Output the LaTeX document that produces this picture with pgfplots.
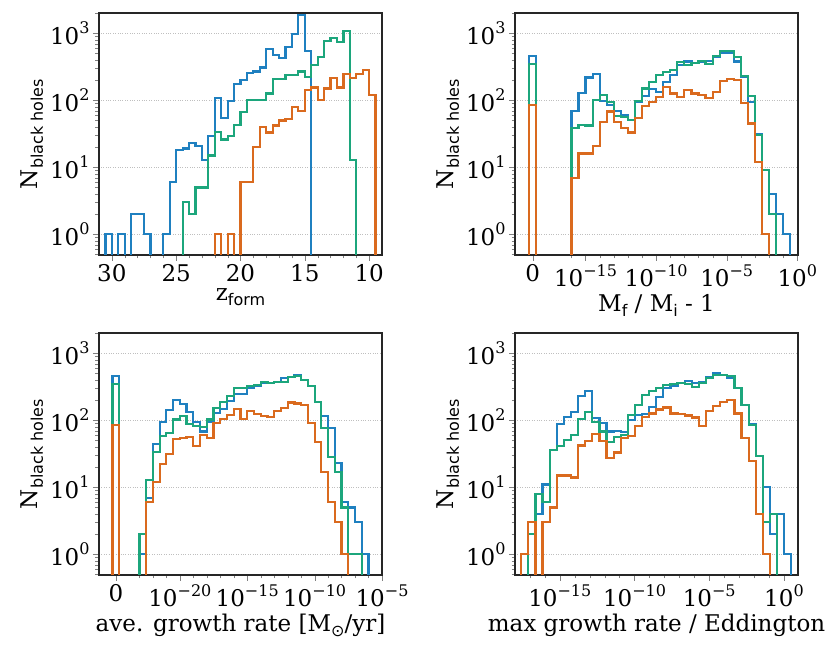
\documentclass[border=0pt]{standalone}
\usepackage{fontspec}
\setmainfont{DejaVu Serif}
\setsansfont{DejaVu Sans}
\usepackage{pgfplots}
\pgfplotsset{compat=1.18}

\definecolor{cblue}{HTML}{1F80C0}
\definecolor{cgreen}{HTML}{1CA67C}
\definecolor{corange}{HTML}{DA6A1E}

\newcommand{\sups}[1]{\raisebox{0.45em}{\fontsize{16}{16}\selectfont #1}}
\newcommand{\subs}[1]{\raisebox{-0.22em}{\fontsize{16}{16}\selectfont\sffamily #1}}

% options shared by all four panels (log y via semilogyaxis)
\pgfplotsset{
  scale only axis, width=283pt, height=242pt,
  ymin=0.49, ymax=2010,
  ytick={1,10,100,1000},
  yticklabels={10\sups{0},10\sups{1},10\sups{2},10\sups{3}},
  minor ytick={0.5,0.6,0.7,0.8,0.9,2,3,4,5,6,7,8,9,20,30,40,50,60,70,80,90,200,300,400,500,600,700,800,900,2000},
  ymajorgrids,
  major grid style={dotted, black!25, line width=0.7pt},
  axis line style={line width=1.1pt, black!85},
  major tick length=6pt, minor tick length=3.5pt,
  tick align=outside, tick pos=left,
  tick label style={font=\fontsize{23}{27}\selectfont},
  label style={font=\fontsize{23}{27}\selectfont},
  ylabel={N\subs{black holes}},
  every axis plot/.append style={const plot mark left, line width=2.2pt},
}

\begin{document}
\begin{tikzpicture}
\path[use as bounding box] (0,0) rectangle (830pt,653pt);

% formation redshift
\begin{semilogyaxis}[at={(99pt,398pt)}, anchor=south west, xmin=9, xmax=31, x dir=reverse,
  xtick={10,15,20,25,30}, xticklabels={10,15,20,25,30},
  minor xtick={11,12,13,14,16,17,18,19,21,22,23,24,26,27,28,29},
  xlabel={z\subs{form}}]
\addplot[cblue] coordinates {(30.5,0.001) (30.5,1) (30,0.001) (29.5,1) (29,0.001) (28.5,2) (28,2) (27.5,1) (27,0.001) (26.5,0.001) (26,1) (25.5,6) (25,18) (24.5,19) (24,23) (23.5,21) (23,13) (22.5,29) (22,109) (21.5,55) (21,97) (20.5,173) (20,200) (19.5,255) (19,268) (18.5,308) (18,585) (17.5,474) (17,424) (16.5,617) (16,977) (15.5,1880) (15,550) (14.5,0.001)};
\addplot[cgreen] coordinates {(24.5,0.001) (24.5,3) (24,2) (23.5,5) (23,5) (22.5,15) (22,34) (21.5,26) (21,29) (20.5,43) (20,66) (19.5,100) (19,100) (18.5,100) (18,126) (17.5,206) (17,206) (16.5,236) (16,236) (15.5,268) (15,220) (14.5,337) (14,437) (13.5,777) (13,842) (12.5,734) (12,1070) (11.5,13) (11,0.001)};
\addplot[corange] coordinates {(22,0.001) (22,1) (21.5,0.001) (21,1) (20.5,0.001) (20,6) (19.5,6) (19,20) (18.5,40) (18,33) (17.5,42) (17,50) (16.5,52) (16,79) (15.5,69) (15,142) (14.5,155) (14,100) (13.5,150) (13,213) (12.5,155) (12,246) (11.5,213) (11,244) (10.5,283) (10,120) (9.5,0.001)};
\end{semilogyaxis}

% fractional mass growth
\begin{semilogyaxis}[at={(515pt,398pt)}, anchor=south west, xmin=-20, xmax=0.05,
  xtick={-18.75,-15,-10,-5,0},
  xticklabels={0,10\sups{−15},10\sups{−10},10\sups{−5},10\sups{0}},
  minor xtick={-16,-14,-13,-12,-11,-9,-8,-7,-6,-4,-3,-2,-1},
  xlabel={M\subs{f} / M\subs{i} - 1}]
\addplot[cblue] coordinates {(-19,0.001) (-19,464) (-18.5,0.001) (-16,69) (-15.5,129) (-15,219) (-14.5,247) (-14,97) (-13.5,85) (-13,69) (-12.5,60) (-12,51) (-11.5,95) (-11,117) (-10.5,147) (-10,134) (-9.5,185) (-9,240) (-8.5,337) (-8,378) (-7.5,365) (-7,378) (-6.5,388) (-6,448) (-5.5,514) (-5,514) (-4.5,378) (-4,226) (-3.5,95) (-3,31) (-2.5,9) (-2,4) (-1.5,2) (-1,1) (-0.5,0.001)};
\addplot[cgreen] coordinates {(-19,0.001) (-19,345) (-18.5,0.001) (-16,39) (-15.5,43) (-15,42) (-14.5,100) (-14,120) (-13.5,93) (-13,58) (-12.5,57) (-12,51) (-11.5,97) (-11,150) (-10.5,185) (-10,240) (-9.5,268) (-9,283) (-8.5,370) (-8,336) (-7.5,356) (-7,388) (-6.5,346) (-6,463) (-5.5,551) (-5,551) (-4.5,448) (-4,231) (-3.5,117) (-3,30) (-2.5,9) (-2,2) (-1.5,0.001)};
\addplot[corange] coordinates {(-19,0.001) (-19,85) (-18.5,0.001) (-16,7) (-15.5,16) (-15,16) (-14.5,21) (-14,47) (-13.5,68) (-13,47) (-12.5,39) (-12,33) (-11.5,55) (-11,83) (-10.5,95) (-10,113) (-9.5,159) (-9,126) (-8.5,112) (-8,142) (-7.5,126) (-7,120) (-6.5,109) (-6,134) (-5.5,195) (-5,208) (-4.5,200) (-4,91) (-3.5,45) (-3,12) (-2.5,1) (-2,0.001)};
\end{semilogyaxis}

% average growth rate
\begin{semilogyaxis}[at={(99pt,78pt)}, anchor=south west, xmin=-26, xmax=-5,
  xtick={-24.75,-20,-15,-10,-5},
  xticklabels={0,10\sups{−20},10\sups{−15},10\sups{−10},10\sups{−5}},
  minor xtick={-23,-22,-21,-19,-18,-17,-16,-14,-13,-12,-11,-9,-8,-7,-6},
  xlabel={ave. growth rate [M\subs{⊙}/yr]}]
\addplot[cblue] coordinates {(-25,0.001) (-25,464) (-24.5,0.001) (-23,1) (-22.5,7) (-22,44) (-21.5,95) (-21,142) (-20.5,200) (-20,173) (-19.5,132) (-19,93) (-18.5,68) (-18,93) (-17.5,127) (-17,147) (-16.5,195) (-16,247) (-15.5,250) (-15,300) (-14.5,329) (-14,356) (-13.5,356) (-13,370) (-12.5,424) (-12,448) (-11.5,475) (-11,400) (-10.5,326) (-10,185) (-9.5,116) (-9,76) (-8.5,23) (-8,6) (-7.5,5) (-7,3) (-6.5,1) (-6,0.001)};
\addplot[cgreen] coordinates {(-25,0.001) (-25,345) (-24.5,0.001) (-23,2) (-22.5,13) (-22,34) (-21.5,59) (-21,65) (-20.5,103) (-20,117) (-19.5,89) (-19,83) (-18.5,80) (-18,103) (-17.5,154) (-17,190) (-16.5,233) (-16,300) (-15.5,300) (-15,326) (-14.5,336) (-14,370) (-13.5,365) (-13,370) (-12.5,370) (-12,448) (-11.5,463) (-11,400) (-10.5,326) (-10,185) (-9.5,76) (-9,28) (-8.5,17) (-8,5) (-7.5,1) (-7,1) (-6.5,0.001)};
\addplot[corange] coordinates {(-25,0.001) (-25,85) (-24.5,0.001) (-22.5,6) (-22,12) (-21.5,22) (-21,31) (-20.5,52) (-20,55) (-19.5,57) (-19,41) (-18.5,60) (-18,54) (-17.5,91) (-17,105) (-16.5,120) (-16,147) (-15.5,105) (-15,137) (-14.5,123) (-14,117) (-13.5,113) (-13,137) (-12.5,154) (-12,184) (-11.5,178) (-11,169) (-10.5,91) (-10,47) (-9.5,17) (-9,6) (-8.5,3) (-8,1) (-7.5,0.001)};
\end{semilogyaxis}

% maximum Eddington ratio
\begin{semilogyaxis}[at={(515pt,78pt)}, anchor=south west, xmin=-18, xmax=0.94,
  xtick={-15,-10,-5,0},
  xticklabels={10\sups{−15},10\sups{−10},10\sups{−5},10\sups{0}},
  minor xtick={-17,-16,-14,-13,-12,-11,-9,-8,-7,-6,-4,-3,-2,-1},
  xlabel={max growth rate / Eddington}]
\addplot[cblue] coordinates {(-16.629,0.001) (-16.629,4) (-16.154,11) (-15.678,36) (-15.203,89) (-14.727,113) (-14.252,134) (-13.776,230) (-13.301,275) (-12.825,107) (-12.350,90) (-11.874,68) (-11.399,69) (-10.923,66) (-10.448,100) (-9.972,120) (-9.497,123) (-9.021,158) (-8.546,220) (-8.070,300) (-7.595,326) (-7.119,356) (-6.644,388) (-6.168,356) (-5.693,370) (-5.217,448) (-4.742,503) (-4.266,475) (-3.791,424) (-3.315,307) (-2.840,170) (-2.364,87) (-1.889,29) (-1.413,10) (-0.938,2) (-0.462,4) (0.013,1) (0.489,0.001)};
\addplot[cgreen] coordinates {(-17.105,0.001) (-17.105,2) (-16.629,8) (-16.154,6) (-15.678,36) (-15.203,41) (-14.727,51) (-14.252,61) (-13.776,105) (-13.301,134) (-12.825,95) (-12.350,68) (-11.874,48) (-11.399,57) (-10.923,61) (-10.448,120) (-9.972,170) (-9.497,240) (-9.021,270) (-8.546,300) (-8.070,336) (-7.595,346) (-7.119,356) (-6.644,346) (-6.168,317) (-5.693,356) (-5.217,424) (-4.742,475) (-4.266,475) (-3.791,463) (-3.315,307) (-2.840,170) (-2.364,85) (-1.889,29) (-1.413,3) (-0.938,4) (-0.462,0.001)};
\addplot[corange] coordinates {(-17.580,0.001) (-17.580,1) (-17.105,3) (-16.629,0.001) (-16.154,3) (-15.678,5) (-15.203,15) (-14.727,15) (-14.252,14) (-13.776,42) (-13.301,49) (-12.825,63) (-12.350,49) (-11.874,27) (-11.399,33) (-10.923,54) (-10.448,59) (-9.972,83) (-9.497,113) (-9.021,126) (-8.546,145) (-8.070,155) (-7.595,126) (-7.119,123) (-6.644,118) (-6.168,110) (-5.693,83) (-5.217,137) (-4.742,163) (-4.266,185) (-3.791,200) (-3.315,126) (-2.840,55) (-2.364,25) (-1.889,4) (-1.413,1) (-0.938,0.001)};
\end{semilogyaxis}
\end{tikzpicture}
\end{document}
